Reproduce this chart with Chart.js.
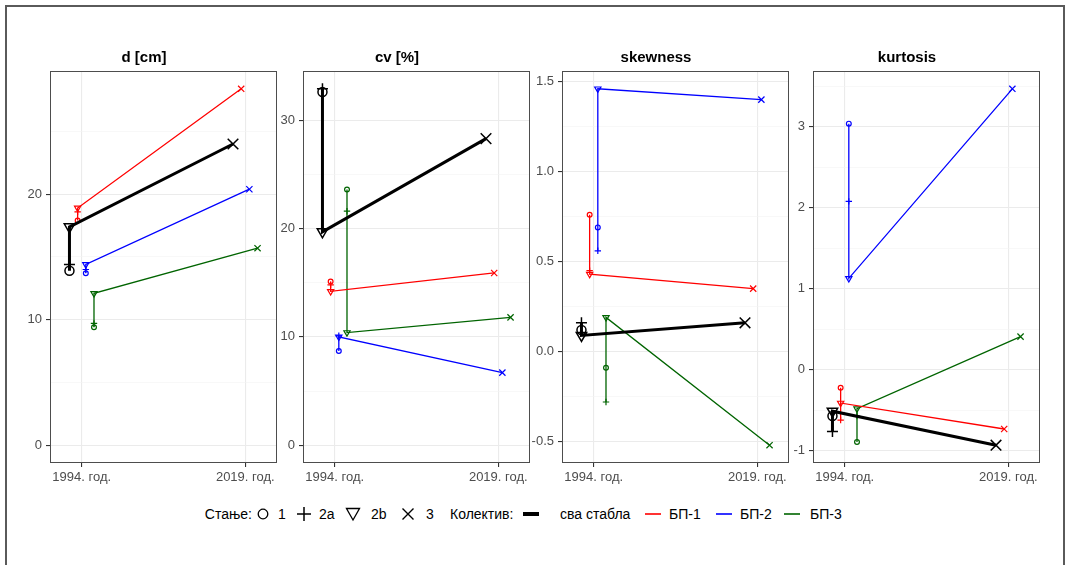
<!DOCTYPE html>
<html>
<head>
<meta charset="utf-8">
<script src="https://cdn.jsdelivr.net/npm/chart.js@4.4.1/dist/chart.umd.min.js"></script>
<style>
  html, body { margin: 0; padding: 0; background: #fff; overflow: hidden; width: 1065px; height: 565px; }
  body { font-family: "Liberation Sans", Arial, sans-serif; position: relative; }
  #frame { position: absolute; left: 5px; top: 5px; width: 1060px; height: 600px;
           border: 2px solid #5a5a5a; border-bottom: none; box-sizing: border-box; }
  canvas.panel { position: absolute; }
  #legend { position: absolute; left: 0; top: 503px; width: 1065px; height: 22px; font-size: 14px; color: #000; }
  #legend span, #legend svg { position: absolute; top: 0; }
  #legend span { line-height: 22px; white-space: nowrap; }
</style>
</head>
<body>
<div id="frame"></div>
<div id="legend"></div>
<script>
// --- podaci ---------------------------------------------------------
var years = ['1994. год.', '2019. год.']
var groups = ['сва стабла', 'БП-1', 'БП-2', 'БП-3']
var states = ['1', '2a', '2b', '3']
var stateYear = [0, 0, 0, 1]          // stanja 1, 2a, 2b su 1994, stanje 3 je 2019
var titles = ['d [cm]', 'cv [%]', 'skewness', 'kurtosis']

// vrednosti po kolektivu: [1, 2a, 2b, 3]
var dVals = [
  [13.9, 14.4, 17.4, 24.0],
  [17.9, 18.6, 18.9, 28.4],
  [13.7, 14.0, 14.4, 20.4],
  [9.4, 9.7, 12.1, 15.7]
]
var cvVals = [
  [32.6, 32.9, 19.7, 28.3],
  [15.1, 14.8, 14.2, 15.9],
  [8.7, 10.1, 10.0, 6.7],
  [23.6, 21.6, 10.4, 11.8]
]
var skewVals = [
  [0.12, 0.16, 0.09, 0.16],
  [0.76, 0.45, 0.43, 0.35],
  [0.69, 0.56, 1.46, 1.40],
  [-0.09, -0.28, 0.19, -0.52]
]
var kurtVals = [
  [-0.57, -0.76, -0.51, -0.93],
  [-0.22, -0.62, -0.41, -0.73],
  [3.04, 2.08, 1.13, 3.47],
  [-0.89, -0.57, -0.48, 0.41]
]
var panelVals = [dVals, cvVals, skewVals, kurtVals]
var yMajorStep = [10, 10, 0.5, 1]
var yDecimals = [0, 0, 1, 0]
var includeZero = [true, true, false, false]

// --- izgled -----------------------------------------------------------
var colors = ['#000000', '#ff0000', '#0000ff', '#006400']
var dodge = [-0.075, -0.025, 0.025, 0.075]
var yearPos = [1, 2]
var xMin = 0.806, xMax = 2.194
var panelLeft = [50, 302.7, 562.3, 812.7]
var panelW = 226.5
var axisW = 45
var canvasTop = 42
var canvasH = 448
var font = '"Liberation Sans", Arial, sans-serif'

var frameBox = {
  id: 'frameBox',
  afterDraw(chart) {
    var a = chart.chartArea, c = chart.ctx
    c.save()
    c.strokeStyle = '#4d4d4d'
    c.lineWidth = 1
    c.strokeRect(Math.round(a.left) + 0.5, Math.round(a.top) + 0.5,
                 Math.round(a.right - a.left) - 1, Math.round(a.bottom - a.top) - 1)
    c.restore()
  }
}

function isMajor(v, step) {
  var r = v / step
  return Math.abs(r - Math.round(r)) < 1e-6
}

function makePanel(i) {
  var vals = panelVals[i]
  var all = [].concat.apply([], vals)
  var lo = Math.min.apply(null, all), hi = Math.max.apply(null, all)
  if (includeZero[i]) { lo = Math.min(lo, 0); hi = Math.max(hi, 0) }
  var pad = (hi - lo) * 0.05
  var yMin = lo - pad, yMax = hi + pad

  var step = yMajorStep[i], half = step / 2
  var yTicks = []
  for (var v = Math.ceil(yMin / half) * half; v <= yMax + 1e-9; v += half) {
    yTicks.push(Math.round(v * 10000) / 10000)
  }

  var cv = document.createElement('canvas')
  cv.className = 'panel'
  var w = Math.round(axisW + panelW + 3)
  cv.width = w
  cv.height = canvasH
  cv.style.left = (panelLeft[i] - axisW) + 'px'
  cv.style.top = canvasTop + 'px'
  document.body.appendChild(cv)

  var datasets = groups.map(function (g, gi) {
    var big = gi === 0
    return {
      label: g,
      data: vals[gi].map(function (y, si) {
        return { x: yearPos[stateYear[si]] + dodge[gi], y: y }
      }),
      showLine: true,
      borderColor: colors[gi],
      backgroundColor: 'rgba(0,0,0,0)',
      borderWidth: big ? 3 : 1.3,
      pointStyle: ['circle', 'cross', 'triangle', 'crossRot'],
      pointRotation: [0, 0, 180, 0],
      pointRadius: big ? [4.5, 5.5, 6, 7.5] : [2.4, 3.2, 3.6, 4.4],
      pointBorderWidth: big ? 1.5 : 1.2,
      pointBorderColor: colors[gi],
      pointBackgroundColor: 'rgba(0,0,0,0)'
    }
  })

  var chart = new Chart(cv, {
    type: 'scatter',
    data: { datasets: datasets },
    options: {
      responsive: false,
      maintainAspectRatio: false,
      animation: false,
      layout: { padding: { left: 0, right: 3, top: 0, bottom: 0 } },
      plugins: {
        legend: { display: false },
        tooltip: { enabled: false },
        title: {
          display: true, text: titles[i], color: '#000',
          font: { family: font, size: 15, weight: 'bold' },
          padding: { top: 7, bottom: 4 }
        }
      },
      scales: {
        x: {
          type: 'linear', min: xMin, max: xMax,
          afterBuildTicks: function (s) { s.ticks = yearPos.map(function (p) { return { value: p } }) },
          afterFit: function (s) { s.height = 27; s.paddingLeft = 0; s.paddingRight = 0 },
          ticks: {
            callback: function (v, idx) { return years[idx] },
            font: { family: font, size: 13 }, color: '#4d4d4d',
            maxRotation: 0, autoSkip: false, padding: 3
          },
          grid: { color: '#ebebeb', lineWidth: 1.1, tickLength: 4, tickColor: '#333333' },
          border: { display: false }
        },
        y: {
          type: 'linear', min: yMin, max: yMax,
          afterBuildTicks: function (s) { s.ticks = yTicks.map(function (t) { return { value: t } }) },
          afterFit: function (s) { s.width = axisW; s.paddingTop = 0; s.paddingBottom = 0 },
          ticks: {
            callback: function (v) { return isMajor(v, step) ? v.toFixed(yDecimals[i]) : '' },
            font: { family: font, size: 13 }, color: '#4d4d4d',
            autoSkip: false, padding: 4
          },
          grid: {
            color: function (ctx) { return ctx.tick && isMajor(ctx.tick.value, step) ? '#ebebeb' : '#f3f3f3' },
            lineWidth: function (ctx) { return ctx.tick && isMajor(ctx.tick.value, step) ? 1.1 : 0.6 },
            tickColor: function (ctx) { return ctx.tick && isMajor(ctx.tick.value, step) ? '#333333' : 'rgba(0,0,0,0)' },
            tickLength: 4
          },
          border: { display: false }
        }
      }
    },
    plugins: [frameBox]
  })

  // dotjeraj sirinu platna da desna ivica panela padne tacno gde treba
  for (var n = 0; n < 3; n++) {
    var diff = (axisW + panelW) - chart.chartArea.right
    if (Math.abs(diff) < 0.5) break
    w = Math.round(w + diff)
    chart.resize(w, canvasH)
  }
}

for (var p = 0; p < 4; p++) makePanel(p)

// --- legenda (HTML) ---------------------------------------------------
var legend = document.getElementById('legend')
function addText(txt, x, alignRight) {
  var s = document.createElement('span')
  s.textContent = txt
  legend.appendChild(s)
  if (alignRight) x = x - s.getBoundingClientRect().width
  s.style.left = x + 'px'
}
function addSvg(inner, x, w) {
  var ns = 'http://www.w3.org/2000/svg'
  var svg = document.createElementNS(ns, 'svg')
  svg.setAttribute('width', w)
  svg.setAttribute('height', 22)
  svg.style.left = x + 'px'
  svg.innerHTML = inner
  legend.appendChild(svg)
}
var shapeSvg = [
  '<circle cx="8" cy="11" r="4.8" fill="none" stroke="#000" stroke-width="1.3"/>',
  '<path d="M1 11H15M8 4V18" stroke="#000" stroke-width="1.5" fill="none"/>',
  '<path d="M1.5 5.5H14.5L8 17Z" fill="none" stroke="#000" stroke-width="1.3"/>',
  '<path d="M2.5 5.5L13.5 16.5M13.5 5.5L2.5 16.5" stroke="#000" stroke-width="1.4" fill="none"/>'
]
addText('Стање:', 252, true)
var shapeX = [255, 296, 345, 400]
var stateX = [278, 319, 371, 426]
for (var k = 0; k < 4; k++) {
  addSvg(shapeSvg[k], shapeX[k], 16)
  addText(states[k], stateX[k])
}
addText('Колектив:', 450)
var lineX = [523, 645, 716, 784]
var textX = [560, 669, 740, 810]
for (var g = 0; g < 4; g++) {
  addSvg('<line x1="0" y1="11" x2="16" y2="11" stroke="' + colors[g] + '" stroke-width="' + (g === 0 ? 4 : 1.6) + '"/>', lineX[g], 16)
  addText(groups[g], textX[g])
}
</script>
</body>
</html>
